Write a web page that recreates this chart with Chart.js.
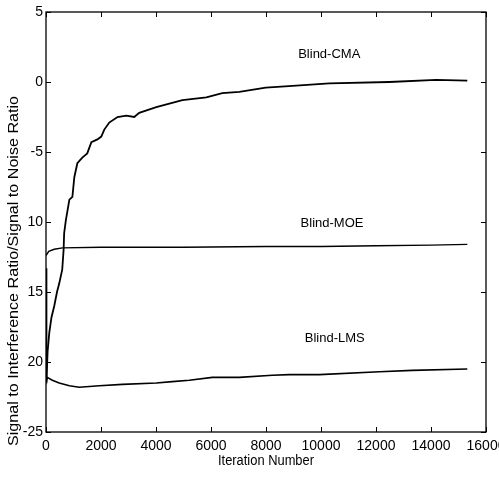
<!DOCTYPE html>
<html>
<head>
<meta charset="utf-8">
<script src="https://cdn.jsdelivr.net/npm/chart.js@4/dist/chart.umd.min.js"></script>
<style>
html,body{margin:0;padding:0;background:#fff;}
#wrap{width:499px;height:477px;position:relative;}
</style>
</head>
<body>
<div id="wrap"><canvas id="c" width="499" height="477"></canvas></div>
<script>
// ---- data ----
const cmaIter = [0, 15, 30, 60, 120, 200, 300, 400, 480, 590, 640, 660, 720, 850, 960, 1030, 1140, 1320, 1500, 1650, 1870, 2010, 2120, 2300, 2600, 2920, 3210, 3390, 4010, 4960, 5830, 6410, 7030, 7990, 8830, 10300, 12480, 14190, 15320];
const cmaVal  = [-20.8, -19.3, -21.0, -19.2, -17.9, -16.8, -16.0, -15.0, -14.4, -13.4, -12.0, -10.8, -9.9, -8.4, -8.2, -6.8, -5.8, -5.4, -5.1, -4.3, -4.1, -3.9, -3.4, -2.9, -2.5, -2.4, -2.5, -2.2, -1.8, -1.3, -1.1, -0.8, -0.7, -0.4, -0.3, -0.1, 0.0, 0.15, 0.1];

const moeIter = [0, 100, 300, 600, 2000, 5000, 8000, 10000, 12000, 14000, 15320];
const moeVal  = [-12.4, -12.1, -11.95, -11.85, -11.8, -11.8, -11.75, -11.75, -11.7, -11.65, -11.6];

const lmsIter = [0, 10, 20, 30, 47, 230, 480, 850, 1210, 1940, 2780, 4010, 4590, 5210, 6050, 7030, 8230, 8850, 9940, 12120, 13320, 15320];
const lmsVal  = [-13.3, -20.5, -19.3, -21.3, -21.1, -21.3, -21.5, -21.7, -21.8, -21.7, -21.6, -21.5, -21.4, -21.3, -21.1, -21.1, -20.95, -20.9, -20.9, -20.7, -20.6, -20.5];

const seriesNames = ['Blind-CMA', 'Blind-MOE', 'Blind-LMS'];

const xTickValues = [0, 2000, 4000, 6000, 8000, 10000, 12000, 14000, 16000];
const xTickLabels = ['0', '2000', '4000', '6000', '8000', '10000', '12000', '14000', '16000'];
const yTickValues = [-25, -20, -15, -10, -5, 0, 5];
const yTickLabels = ['-25', '20', '15', '10', '-5', '0', '5'];

const xTitle = 'Iteration Number';
const yTitle = 'Signal to Interference Ratio/Signal to Noise Ratio';

// ---- build ----
const pts = (xs, ys) => xs.map((x, i) => ({x: x, y: ys[i]}));
const FONT = "'Liberation Sans', Arial, sans-serif";

const annotations = [
  {text: seriesNames[0], x: 10300, y: 2.0},
  {text: seriesNames[1], x: 10400, y: -10.1},
  {text: seriesNames[2], x: 10500, y: -18.3}
];

const framePlugin = {
  id: 'frame',
  afterDatasetsDraw(chart) {
    const {ctx, chartArea: a, scales} = chart;
    const xs = scales.x, ys = scales.y;
    ctx.save();
    ctx.strokeStyle = '#000';
    ctx.lineWidth = 1.3;
    ctx.strokeRect(a.left, a.top, a.right - a.left, a.bottom - a.top);
    const L = 5;
    ctx.beginPath();
    xTickValues.forEach(v => {
      const p = Math.round(xs.getPixelForValue(v)) + 0.5;
      ctx.moveTo(p, a.bottom); ctx.lineTo(p, a.bottom - L);
      ctx.moveTo(p, a.top); ctx.lineTo(p, a.top + L);
    });
    yTickValues.forEach(v => {
      const p = Math.round(ys.getPixelForValue(v)) + 0.5;
      ctx.moveTo(a.left, p); ctx.lineTo(a.left + L, p);
      ctx.moveTo(a.right, p); ctx.lineTo(a.right - L, p);
    });
    ctx.lineWidth = 1;
    ctx.stroke();
    // annotations
    ctx.fillStyle = '#000';
    ctx.font = "13px " + FONT;
    ctx.textAlign = 'center';
    ctx.textBaseline = 'middle';
    annotations.forEach(an => {
      ctx.fillText(an.text, xs.getPixelForValue(an.x), ys.getPixelForValue(an.y));
    });
    // axis titles
    ctx.textBaseline = 'alphabetic';
    ctx.font = "14px " + FONT;
    ctx.save();
    const wx = ctx.measureText(xTitle).width;
    ctx.translate((a.left + a.right) / 2, 465);
    ctx.scale(96 / wx, 1);
    ctx.fillText(xTitle, 0, 0);
    ctx.restore();
    ctx.save();
    const w = ctx.measureText(yTitle).width;
    ctx.translate(18, 271);
    ctx.rotate(-Math.PI / 2);
    ctx.scale(350 / w, 1);
    ctx.fillText(yTitle, 0, 0);
    ctx.restore();
    ctx.restore();
  }
};

new Chart(document.getElementById('c'), {
  type: 'scatter',
  data: {
    datasets: [
      {label: seriesNames[0], data: pts(cmaIter, cmaVal), showLine: true, borderColor: '#000', borderWidth: 1.8, pointRadius: 0, tension: 0},
      {label: seriesNames[1], data: pts(moeIter, moeVal), showLine: true, borderColor: '#000', borderWidth: 1.4, pointRadius: 0, tension: 0},
      {label: seriesNames[2], data: pts(lmsIter, lmsVal), showLine: true, borderColor: '#000', borderWidth: 1.6, pointRadius: 0, tension: 0}
    ]
  },
  options: {
    responsive: false,
    animation: false,
    devicePixelRatio: 1,
    layout: {padding: {top: 12, right: 13, left: 0, bottom: 0}},
    plugins: {legend: {display: false}, tooltip: {enabled: false}},
    scales: {
      x: {
        type: 'linear', min: 0, max: 16000,
        afterBuildTicks: s => { s.ticks = xTickValues.map(v => ({value: v})); },
        afterFit: s => { s.height = 45; s.paddingLeft = 0; s.paddingRight = 0; },
        ticks: {
          callback: (v) => xTickLabels[xTickValues.indexOf(v)],
          color: '#000', font: {family: FONT, size: 14}, padding: 6, maxRotation: 0, autoSkip: false
        },
        grid: {display: false, drawTicks: false},
        border: {display: false}
      },
      y: {
        type: 'linear', min: -25, max: 5,
        afterBuildTicks: s => { s.ticks = yTickValues.map(v => ({value: v})); },
        afterFit: s => { s.width = 46; s.paddingTop = 0; s.paddingBottom = 0; },
        ticks: {
          callback: (v) => yTickLabels[yTickValues.indexOf(v)],
          color: '#000', font: {family: FONT, size: 14}, padding: 3, autoSkip: false
        },
        grid: {display: false, drawTicks: false},
        border: {display: false}
      }
    }
  },
  plugins: [framePlugin]
});
</script>
</body>
</html>
